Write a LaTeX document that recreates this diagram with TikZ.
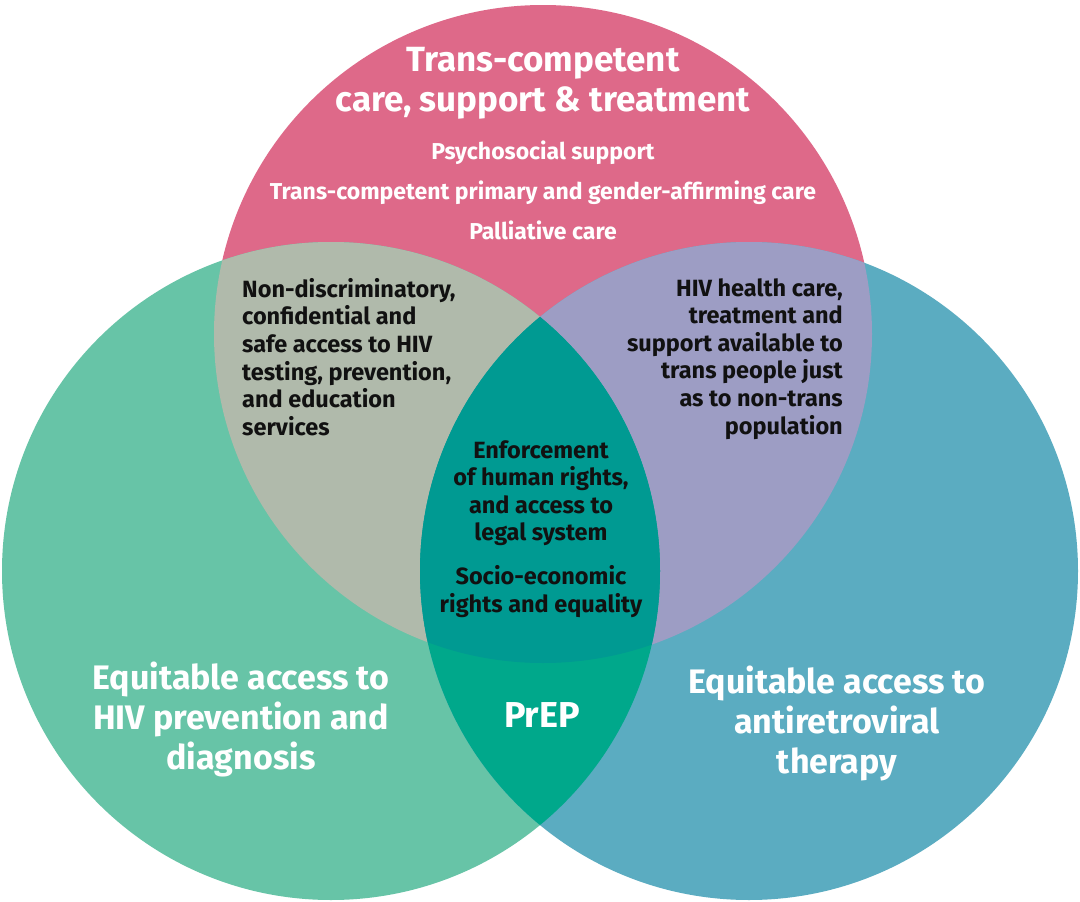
\documentclass[tikz,border=0pt]{standalone}
\usepackage{fontspec}
\setmainfont{Fira Sans}
\usetikzlibrary{positioning}
\definecolor{carepink}{RGB}{222,105,137}
\definecolor{prevgreen}{RGB}{103,196,167}
\definecolor{artblue}{RGB}{91,172,193}
\definecolor{accessgrey}{RGB}{176,186,171}
\definecolor{healthlav}{RGB}{157,157,196}
\definecolor{prepgreen}{RGB}{0,168,139}
\definecolor{rightsteal}{RGB}{0,154,146}
\definecolor{inktext}{RGB}{17,17,17}
\tikzset{
  headtext/.style={text=white,inner sep=0pt,align=center,
    font=\bfseries\fontsize{35}{40}\selectfont},
  itemtext/.style={text=white,inner sep=0pt,align=center,
    font=\bfseries\fontsize{23}{40}\selectfont},
  overlaptext/.style={text=inktext,inner sep=0pt,
    font=\bfseries\fontsize{23.5}{27.6}\selectfont},
  bigtext/.style={text=white,inner sep=0pt,align=center,
    font=\bfseries\fontsize{34}{40}\selectfont}
}
\begin{document}
\begin{tikzpicture}[x=1pt,y=-1pt]
\fill[white] (0,0) rectangle (1080,902);
\useasboundingbox (0,0) rectangle (1080,902);
\coordinate (care) at (543,334);
\coordinate (prev) at (331,571);
\coordinate (art) at (749,571);
\fill[carepink] (care) circle (329pt);
\fill[prevgreen] (prev) circle (329pt);
\fill[artblue] (art) circle (329pt);
\begin{scope}
\clip (care) circle (329pt);
\fill[accessgrey] (prev) circle (329pt);
\fill[healthlav] (art) circle (329pt);
\end{scope}
\begin{scope}
\clip (prev) circle (329pt);
\fill[prepgreen] (art) circle (329pt);
\clip (care) circle (329pt);
\fill[rightsteal] (art) circle (329pt);
\end{scope}
\path (543,47.5) node[headtext,anchor=north] (carehead)
    {Trans-competent\\care, support \& treatment};
\path (543,140.5) node[itemtext,anchor=north] (careitems)
    {Psychosocial support\\Trans-competent primary and gender-affirming care\\Palliative care};
\path (242,278) node[overlaptext,anchor=north west,align=left] (accesstext)
    {Non-discriminatory,\\confidential and\\safe access to HIV\\testing, prevention,\\and education\\services};
\path (843,278) node[overlaptext,anchor=north east,align=right] (healthtext)
    {HIV health care,\\treatment and\\support available to\\trans people just\\as to non-trans\\population};
\path (541,440) node[overlaptext,anchor=north,align=center] (rightstext)
    {Enforcement\\of human rights,\\and access to\\legal system\\[16pt]Socio-economic\\rights and equality};
\path (241,662) node[bigtext,anchor=north] (prevtext)
    {Equitable access to\\HIV prevention and\\diagnosis};
\path (837,665.5) node[bigtext,anchor=north] (arttext)
    {Equitable access to\\antiretroviral\\therapy};
\path (542,702.5) node[bigtext,anchor=north,font=\bfseries\fontsize{36}{40}\selectfont] (preptext) {PrEP};
\end{tikzpicture}
\end{document}
